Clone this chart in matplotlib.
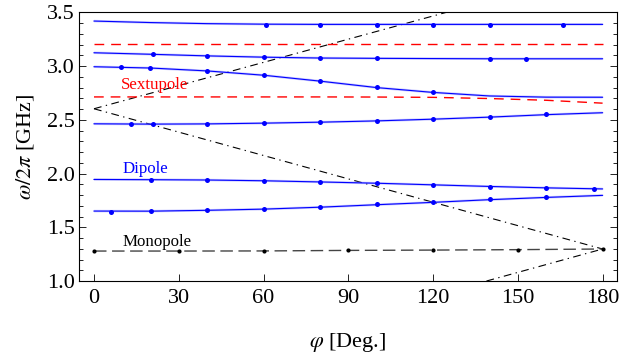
import matplotlib
matplotlib.use("Agg")
import matplotlib.pyplot as plt
from matplotlib.ticker import MultipleLocator

plt.rcParams['font.family'] = ['Liberation Serif', 'DejaVu Serif']
plt.rcParams['mathtext.fontset'] = 'stix'

# curve sample positions (deg)
phi = [0, 20, 40, 60, 80, 100, 120, 140, 160, 180]

# solid (blue) curves
curve_a = [3.419, 3.405, 3.395, 3.390, 3.388, 3.388, 3.388, 3.388, 3.388, 3.388]
curve_b = [3.124, 3.110, 3.095, 3.083, 3.075, 3.072, 3.070, 3.068, 3.068, 3.068]
curve_c = [2.994, 2.982, 2.955, 2.915, 2.860, 2.800, 2.755, 2.722, 2.711, 2.710]
curve_d = [2.463, 2.460, 2.462, 2.469, 2.478, 2.490, 2.506, 2.525, 2.548, 2.566]
curve_e = [1.945, 1.943, 1.940, 1.933, 1.922, 1.910, 1.895, 1.880, 1.867, 1.857]
curve_f = [1.651, 1.650, 1.658, 1.669, 1.687, 1.710, 1.732, 1.757, 1.778, 1.797]

# red dashed sextupole curves
sext_top = [3.210, 3.210, 3.210, 3.210, 3.210, 3.210, 3.210, 3.210, 3.210, 3.210]
sext_low = [2.713, 2.713, 2.713, 2.713, 2.713, 2.712, 2.709, 2.698, 2.682, 2.655]

# simulated points (blue)
pts_a_x = [61, 80, 100, 120, 140, 166]
pts_a_y = [3.385, 3.385, 3.385, 3.385, 3.385, 3.385]
pts_b_x = [21, 40, 60, 80, 100, 140, 153]
pts_b_y = [3.109, 3.090, 3.081, 3.072, 3.072, 3.062, 3.062]
pts_c_x = [9.4, 19.8, 40, 60, 80, 100, 120]
pts_c_y = [2.988, 2.981, 2.953, 2.916, 2.860, 2.802, 2.755]
pts_d_x = [13, 21, 40, 60, 80, 100, 120, 140, 160]
pts_d_y = [2.458, 2.458, 2.460, 2.470, 2.479, 2.488, 2.507, 2.526, 2.551]
pts_e_x = [20, 40, 60, 80, 100, 120, 140, 160, 177]
pts_e_y = [1.937, 1.937, 1.930, 1.918, 1.909, 1.893, 1.872, 1.863, 1.854]
pts_f_x = [6, 20, 40, 60, 80, 100, 120, 140, 160]
pts_f_y = [1.639, 1.648, 1.658, 1.670, 1.688, 1.713, 1.732, 1.760, 1.779]

# monopole
mono_x = [0, 30, 60, 90, 120, 150, 180]
mono_y = [1.279, 1.279, 1.280, 1.285, 1.288, 1.292, 1.298]

# light lines (dash-dot), end points
light1_x = [0, 124.7]
light1_y = [2.603, 3.5]
light2_x = [0, 180]
light2_y = [2.603, 1.298]
light3_x = [138.9, 180]
light3_y = [1.0, 1.298]

fig = plt.figure(figsize=(6.22, 3.58), dpi=100)
ax = fig.add_axes([0.1275, 0.215, 0.864, 0.7505])

for ly, lx in [(light1_y, light1_x), (light2_y, light2_x), (light3_y, light3_x)]:
    ax.plot(lx, ly, color='black', lw=0.8, dashes=(7, 4, 1.2, 4))

for yy in [sext_top, sext_low]:
    ax.plot(phi, yy, color='red', lw=1.0, dashes=(7, 5))

for yy in [curve_a, curve_b, curve_c, curve_d, curve_e, curve_f]:
    ax.plot(phi, yy, color='#9999ff', lw=1.8, alpha=0.5, solid_capstyle='butt')
    ax.plot(phi, yy, color='blue', lw=0.8)

for xx, yy in [(pts_a_x, pts_a_y), (pts_b_x, pts_b_y), (pts_c_x, pts_c_y),
               (pts_d_x, pts_d_y), (pts_e_x, pts_e_y), (pts_f_x, pts_f_y)]:
    ax.plot(xx, yy, 'o', color='blue', ms=3.6, mew=0)

ax.plot(mono_x, mono_y, color='#444444', lw=1.0, dashes=(9, 4))
ax.plot(mono_x, mono_y, 'o', color='black', ms=3.0, mew=0)

ax.text(21.6, 2.82, 'Sextupole', color='red', fontsize=12.2, ha='center', va='center')
ax.text(18.3, 2.04, 'Dipole', color='blue', fontsize=12.2, ha='center', va='center')
ax.text(22.4, 1.36, 'Monopole', color='black', fontsize=12.2, ha='center', va='center')

ax.set_xlim(-5.2, 185)
ax.set_ylim(1.0, 3.5)
ax.set_xticks([0, 30, 60, 90, 120, 150, 180])
ax.yaxis.set_major_locator(MultipleLocator(0.5))
ax.yaxis.set_minor_locator(MultipleLocator(0.1))
ax.yaxis.set_major_formatter(plt.FormatStrFormatter('%.1f'))
ax.tick_params(axis='x', direction='in', top=False, length=5, width=0.6, labelsize=16, pad=6)
ax.tick_params(axis='y', which='both', direction='in', right=True, width=0.6, labelsize=16, pad=3)
ax.tick_params(axis='y', which='major', length=5)
ax.tick_params(axis='y', which='minor', length=3)
for s in ax.spines.values():
    s.set_linewidth(0.8)

ax.set_xlabel(r'$\varphi$ [Deg.]', fontsize=16, labelpad=16)
ax.set_ylabel(r'$\omega/2\pi$ [GHz]', fontsize=16, labelpad=8)

fig.savefig('out.png', dpi=100)
